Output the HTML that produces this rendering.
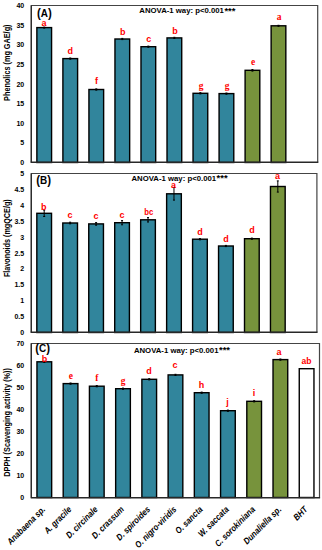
<!DOCTYPE html>
<html><head><meta charset="utf-8"><style>
html,body{margin:0;padding:0;background:#fff;}
svg{display:block;}
text{font-family:"Liberation Sans",sans-serif;font-weight:bold;}
.tick{font-size:7px;text-anchor:end;fill:#000;}
.lab{font-size:9.0px;text-anchor:middle;fill:#FF0000;}
.ser{font-family:"Liberation Serif",serif;font-size:9.5px;}
.ytitle{font-size:8.2px;text-anchor:middle;fill:#000;}
.anova{font-size:7.2px;fill:#000;}
.ast{font-size:8.6px;fill:#000;}
.plab{font-size:10.6px;fill:#000;}
.par{font-size:12.2px;}
.xl{font-size:9.0px;font-style:italic;text-anchor:end;fill:#000;}
</style></head><body>
<svg width="322" height="550" viewBox="0 0 322 550">
<rect width="322" height="550" fill="#fff"/>
<path d="M31.3 162.5V5.5H317.7V162.5" fill="none" stroke="#444" stroke-width="1.2"/>
<path d="M31.3 5.5V162.5" fill="none" stroke="#2a2a2a" stroke-width="1.25"/>
<text x="24.2" y="165.00" class="tick">0</text>
<text x="24.2" y="145.38" class="tick">5</text>
<text x="24.2" y="125.75" class="tick">10</text>
<text x="24.2" y="106.12" class="tick">15</text>
<text x="24.2" y="86.50" class="tick">20</text>
<text x="24.2" y="66.88" class="tick">25</text>
<text x="24.2" y="47.25" class="tick">30</text>
<text x="24.2" y="27.62" class="tick">35</text>
<text x="24.2" y="8.00" class="tick">40</text>
<rect x="36.87" y="27.60" width="14.70" height="134.90" fill="#31859C" stroke="#000" stroke-width="1.4"/>
<path d="M44.22 27.10V28.10M43.22 27.10h2M43.22 28.10h2" stroke="#000" stroke-width="1" fill="none"/>
<rect x="62.90" y="58.60" width="14.70" height="103.90" fill="#31859C" stroke="#000" stroke-width="1.4"/>
<path d="M70.25 58.00V59.20M69.25 58.00h2M69.25 59.20h2" stroke="#000" stroke-width="1" fill="none"/>
<rect x="88.93" y="89.50" width="14.70" height="73.00" fill="#31859C" stroke="#000" stroke-width="1.4"/>
<path d="M96.28 88.90V90.10M95.28 88.90h2M95.28 90.10h2" stroke="#000" stroke-width="1" fill="none"/>
<rect x="114.96" y="39.00" width="14.70" height="123.50" fill="#31859C" stroke="#000" stroke-width="1.4"/>
<path d="M122.31 38.40V39.60M121.31 38.40h2M121.31 39.60h2" stroke="#000" stroke-width="1" fill="none"/>
<rect x="140.99" y="46.70" width="14.70" height="115.80" fill="#31859C" stroke="#000" stroke-width="1.4"/>
<path d="M148.34 46.10V47.30M147.34 46.10h2M147.34 47.30h2" stroke="#000" stroke-width="1" fill="none"/>
<rect x="167.02" y="37.90" width="14.70" height="124.60" fill="#31859C" stroke="#000" stroke-width="1.4"/>
<path d="M174.37 37.30V38.50M173.37 37.30h2M173.37 38.50h2" stroke="#000" stroke-width="1" fill="none"/>
<rect x="193.04" y="93.30" width="14.70" height="69.20" fill="#31859C" stroke="#000" stroke-width="1.4"/>
<path d="M200.39 92.70V93.90M199.39 92.70h2M199.39 93.90h2" stroke="#000" stroke-width="1" fill="none"/>
<rect x="219.08" y="93.60" width="14.70" height="68.90" fill="#31859C" stroke="#000" stroke-width="1.4"/>
<path d="M226.43 93.00V94.20M225.43 93.00h2M225.43 94.20h2" stroke="#000" stroke-width="1" fill="none"/>
<rect x="245.10" y="70.30" width="14.70" height="92.20" fill="#77933C" stroke="#000" stroke-width="1.4"/>
<path d="M252.45 69.50V71.10M251.45 69.50h2M251.45 71.10h2" stroke="#000" stroke-width="1" fill="none"/>
<rect x="271.13" y="25.80" width="14.70" height="136.70" fill="#77933C" stroke="#000" stroke-width="1.4"/>
<path d="M278.49 25.30V26.30M277.49 25.30h2M277.49 26.30h2" stroke="#000" stroke-width="1" fill="none"/>
<path d="M30.7 162.20H318.3" fill="none" stroke="#282828" stroke-width="1.5"/>
<text x="44.05" y="25.84" class="lab">a</text>
<text x="70.30" y="53.62" class="lab">d</text>
<text x="96.50" y="84.42" class="lab">f</text>
<text x="122.70" y="34.52" class="lab">b</text>
<text x="148.70" y="41.94" class="lab">c</text>
<text x="174.90" y="33.52" class="lab">b</text>
<text x="201.00" y="88.78" class="lab ser">g</text>
<text x="227.00" y="88.78" class="lab ser">g</text>
<text x="253.00" y="65.17" class="lab ser">e</text>
<text x="279.00" y="20.25" class="lab ser">a</text>
<text transform="translate(10.2 62.70) rotate(-90)" class="ytitle" textLength="76.4" lengthAdjust="spacingAndGlyphs" x="0" y="0">Phenolics (mg GAE/g)</text>
<text x="139.3" y="13.4" class="anova" textLength="84.6" lengthAdjust="spacingAndGlyphs">ANOVA-1 way: p&lt;0.001</text>
<text x="224.40" y="13.60" class="ast" textLength="11.0" lengthAdjust="spacingAndGlyphs">***</text>
<text x="36.9" y="17.0" class="plab" textLength="14.8" lengthAdjust="spacingAndGlyphs"><tspan class="par">(</tspan>A<tspan class="par">)</tspan></text>
<path d="M31.3 332.5V173.5H316.9V332.5" fill="none" stroke="#444" stroke-width="1.2"/>
<path d="M31.3 173.5V332.5" fill="none" stroke="#2a2a2a" stroke-width="1.25"/>
<text x="24.2" y="335.00" class="tick">0</text>
<text x="24.2" y="319.10" class="tick">0.5</text>
<text x="24.2" y="303.20" class="tick">1</text>
<text x="24.2" y="287.30" class="tick">1.5</text>
<text x="24.2" y="271.40" class="tick">2</text>
<text x="24.2" y="255.50" class="tick">2.5</text>
<text x="24.2" y="239.60" class="tick">3</text>
<text x="24.2" y="223.70" class="tick">3.5</text>
<text x="24.2" y="207.80" class="tick">4</text>
<text x="24.2" y="191.90" class="tick">4.5</text>
<text x="24.2" y="176.00" class="tick">5</text>
<rect x="36.83" y="213.30" width="14.70" height="119.20" fill="#31859C" stroke="#000" stroke-width="1.4"/>
<path d="M44.18 210.10V216.50M43.18 210.10h2M43.18 216.50h2" stroke="#000" stroke-width="1" fill="none"/>
<rect x="62.79" y="223.00" width="14.70" height="109.50" fill="#31859C" stroke="#000" stroke-width="1.4"/>
<path d="M70.14 222.20V223.80M69.14 222.20h2M69.14 223.80h2" stroke="#000" stroke-width="1" fill="none"/>
<rect x="88.75" y="223.90" width="14.70" height="108.60" fill="#31859C" stroke="#000" stroke-width="1.4"/>
<path d="M96.10 222.60V225.20M95.10 222.60h2M95.10 225.20h2" stroke="#000" stroke-width="1" fill="none"/>
<rect x="114.71" y="222.70" width="14.70" height="109.80" fill="#31859C" stroke="#000" stroke-width="1.4"/>
<path d="M122.06 220.60V224.80M121.06 220.60h2M121.06 224.80h2" stroke="#000" stroke-width="1" fill="none"/>
<rect x="140.67" y="219.80" width="14.70" height="112.70" fill="#31859C" stroke="#000" stroke-width="1.4"/>
<path d="M148.02 217.60V222.00M147.02 217.60h2M147.02 222.00h2" stroke="#000" stroke-width="1" fill="none"/>
<rect x="166.63" y="193.80" width="14.70" height="138.70" fill="#31859C" stroke="#000" stroke-width="1.4"/>
<path d="M173.98 187.50V200.10M172.98 187.50h2M172.98 200.10h2" stroke="#000" stroke-width="1" fill="none"/>
<rect x="192.59" y="239.20" width="14.70" height="93.30" fill="#31859C" stroke="#000" stroke-width="1.4"/>
<path d="M199.94 238.60V239.80M198.94 238.60h2M198.94 239.80h2" stroke="#000" stroke-width="1" fill="none"/>
<rect x="218.55" y="246.00" width="14.70" height="86.50" fill="#31859C" stroke="#000" stroke-width="1.4"/>
<path d="M225.90 245.40V246.60M224.90 245.40h2M224.90 246.60h2" stroke="#000" stroke-width="1" fill="none"/>
<rect x="244.51" y="238.70" width="14.70" height="93.80" fill="#77933C" stroke="#000" stroke-width="1.4"/>
<path d="M251.86 238.10V239.30M250.86 238.10h2M250.86 239.30h2" stroke="#000" stroke-width="1" fill="none"/>
<rect x="270.47" y="186.50" width="14.70" height="146.00" fill="#77933C" stroke="#000" stroke-width="1.4"/>
<path d="M277.82 180.90V192.10M276.82 180.90h2M276.82 192.10h2" stroke="#000" stroke-width="1" fill="none"/>
<path d="M30.7 332.30H317.5" fill="none" stroke="#282828" stroke-width="1.5"/>
<text x="43.70" y="209.62" class="lab">b</text>
<text x="70.00" y="218.14" class="lab">c</text>
<text x="96.10" y="219.04" class="lab">c</text>
<text x="122.10" y="218.14" class="lab">c</text>
<text x="148.70" y="214.72" class="lab" textLength="9.0" lengthAdjust="spacingAndGlyphs">bc</text>
<text x="173.60" y="187.64" class="lab">a</text>
<text x="200.10" y="234.72" class="lab">d</text>
<text x="226.00" y="241.72" class="lab">d</text>
<text x="251.90" y="233.32" class="lab">d</text>
<text x="277.40" y="178.94" class="lab">a</text>
<text transform="translate(10.2 238.20) rotate(-90)" class="ytitle" textLength="77.8" lengthAdjust="spacingAndGlyphs" x="0" y="0">Flavonoids (mgQCE/g)</text>
<text x="131.5" y="180.9" class="anova" textLength="84.6" lengthAdjust="spacingAndGlyphs">ANOVA-1 way: p&lt;0.001</text>
<text x="216.60" y="181.10" class="ast" textLength="11.0" lengthAdjust="spacingAndGlyphs">***</text>
<text x="36.2" y="184.2" class="plab" textLength="14.8" lengthAdjust="spacingAndGlyphs"><tspan class="par">(</tspan>B<tspan class="par">)</tspan></text>
<path d="M31.3 497.5V343.5H319.5V497.5" fill="none" stroke="#444" stroke-width="1.2"/>
<path d="M31.3 343.5V497.5" fill="none" stroke="#2a2a2a" stroke-width="1.25"/>
<text x="24.2" y="500.00" class="tick">0</text>
<text x="24.2" y="478.00" class="tick">10</text>
<text x="24.2" y="456.00" class="tick">20</text>
<text x="24.2" y="434.00" class="tick">30</text>
<text x="24.2" y="412.00" class="tick">40</text>
<text x="24.2" y="390.00" class="tick">50</text>
<text x="24.2" y="368.00" class="tick">60</text>
<text x="24.2" y="346.00" class="tick">70</text>
<rect x="36.96" y="361.80" width="14.70" height="135.70" fill="#31859C" stroke="#000" stroke-width="1.4"/>
<path d="M44.31 361.20V362.40M43.31 361.20h2M43.31 362.40h2" stroke="#000" stroke-width="1" fill="none"/>
<rect x="63.20" y="383.60" width="14.70" height="113.90" fill="#31859C" stroke="#000" stroke-width="1.4"/>
<path d="M70.55 383.00V384.20M69.55 383.00h2M69.55 384.20h2" stroke="#000" stroke-width="1" fill="none"/>
<rect x="89.43" y="386.20" width="14.70" height="111.30" fill="#31859C" stroke="#000" stroke-width="1.4"/>
<path d="M96.78 385.60V386.80M95.78 385.60h2M95.78 386.80h2" stroke="#000" stroke-width="1" fill="none"/>
<rect x="115.66" y="388.70" width="14.70" height="108.80" fill="#31859C" stroke="#000" stroke-width="1.4"/>
<path d="M123.01 388.10V389.30M122.01 388.10h2M122.01 389.30h2" stroke="#000" stroke-width="1" fill="none"/>
<rect x="141.88" y="379.30" width="14.70" height="118.20" fill="#31859C" stroke="#000" stroke-width="1.4"/>
<path d="M149.23 378.70V379.90M148.23 378.70h2M148.23 379.90h2" stroke="#000" stroke-width="1" fill="none"/>
<rect x="168.12" y="374.90" width="14.70" height="122.60" fill="#31859C" stroke="#000" stroke-width="1.4"/>
<path d="M175.47 374.30V375.50M174.47 374.30h2M174.47 375.50h2" stroke="#000" stroke-width="1" fill="none"/>
<rect x="194.34" y="392.70" width="14.70" height="104.80" fill="#31859C" stroke="#000" stroke-width="1.4"/>
<path d="M201.69 392.10V393.30M200.69 392.10h2M200.69 393.30h2" stroke="#000" stroke-width="1" fill="none"/>
<rect x="220.57" y="410.70" width="14.70" height="86.80" fill="#31859C" stroke="#000" stroke-width="1.4"/>
<path d="M227.92 410.10V411.30M226.92 410.10h2M226.92 411.30h2" stroke="#000" stroke-width="1" fill="none"/>
<rect x="246.81" y="401.30" width="14.70" height="96.20" fill="#77933C" stroke="#000" stroke-width="1.4"/>
<path d="M254.16 400.70V401.90M253.16 400.70h2M253.16 401.90h2" stroke="#000" stroke-width="1" fill="none"/>
<rect x="273.03" y="359.60" width="14.70" height="137.90" fill="#77933C" stroke="#000" stroke-width="1.4"/>
<path d="M280.38 359.00V360.20M279.38 359.00h2M279.38 360.20h2" stroke="#000" stroke-width="1" fill="none"/>
<rect x="299.26" y="368.70" width="14.70" height="128.80" fill="#FFFFFF" stroke="#000" stroke-width="1.4"/>
<path d="M30.7 497.75H320.1" fill="none" stroke="#282828" stroke-width="1.5"/>
<text x="44.50" y="361.62" class="lab">b</text>
<text x="70.80" y="378.66" class="lab ser">e</text>
<text x="96.80" y="381.19" class="lab ser">f</text>
<text x="123.00" y="383.68" class="lab ser">g</text>
<text x="149.00" y="374.42" class="lab">d</text>
<text x="175.00" y="368.44" class="lab">c</text>
<text x="201.60" y="387.62" class="lab">h</text>
<text x="227.50" y="405.22" class="lab">j</text>
<text x="254.00" y="396.42" class="lab">i</text>
<text x="279.10" y="355.04" class="lab">a</text>
<text x="306.40" y="363.52" class="lab" textLength="10.0" lengthAdjust="spacingAndGlyphs">ab</text>
<text transform="translate(10.2 422.40) rotate(-90)" class="ytitle" textLength="108.6" lengthAdjust="spacingAndGlyphs" x="0" y="0">DPPH (Scavenging activity (%))</text>
<text x="133.9" y="353.2" class="anova" textLength="84.6" lengthAdjust="spacingAndGlyphs">ANOVA-1 way: p&lt;0.001</text>
<text x="219.00" y="353.40" class="ast" textLength="11.0" lengthAdjust="spacingAndGlyphs">***</text>
<text x="35.3" y="352.4" class="plab" textLength="14.8" lengthAdjust="spacingAndGlyphs"><tspan class="par">(</tspan>C<tspan class="par">)</tspan></text>
<text transform="translate(45.81 510.0) rotate(-45)" class="xl" textLength="49.74" lengthAdjust="spacingAndGlyphs">Anabaena sp.</text>
<text transform="translate(72.05 510.0) rotate(-45)" class="xl" textLength="34.44" lengthAdjust="spacingAndGlyphs">A. gracile</text>
<text transform="translate(98.28 510.0) rotate(-45)" class="xl" textLength="40.82" lengthAdjust="spacingAndGlyphs">D. circinale</text>
<text transform="translate(124.51 510.0) rotate(-45)" class="xl" textLength="41.24" lengthAdjust="spacingAndGlyphs">D. crassum</text>
<text transform="translate(150.73 510.0) rotate(-45)" class="xl" textLength="43.78" lengthAdjust="spacingAndGlyphs">D. spiroides</text>
<text transform="translate(176.97 510.0) rotate(-45)" class="xl" textLength="54.40" lengthAdjust="spacingAndGlyphs">O. nigro-viridis</text>
<text transform="translate(203.19 510.0) rotate(-45)" class="xl" textLength="34.44" lengthAdjust="spacingAndGlyphs">O. sancta</text>
<text transform="translate(229.42 510.0) rotate(-45)" class="xl" textLength="38.98" lengthAdjust="spacingAndGlyphs">W. saccata</text>
<text transform="translate(255.66 510.0) rotate(-45)" class="xl" textLength="52.71" lengthAdjust="spacingAndGlyphs">C. sorokiniana</text>
<text transform="translate(281.88 510.0) rotate(-45)" class="xl" textLength="49.31" lengthAdjust="spacingAndGlyphs">Dunaliella sp.</text>
<text transform="translate(308.12 510.0) rotate(-45)" class="xl" textLength="15.72" lengthAdjust="spacingAndGlyphs">BHT</text>
</svg>
</body></html>
